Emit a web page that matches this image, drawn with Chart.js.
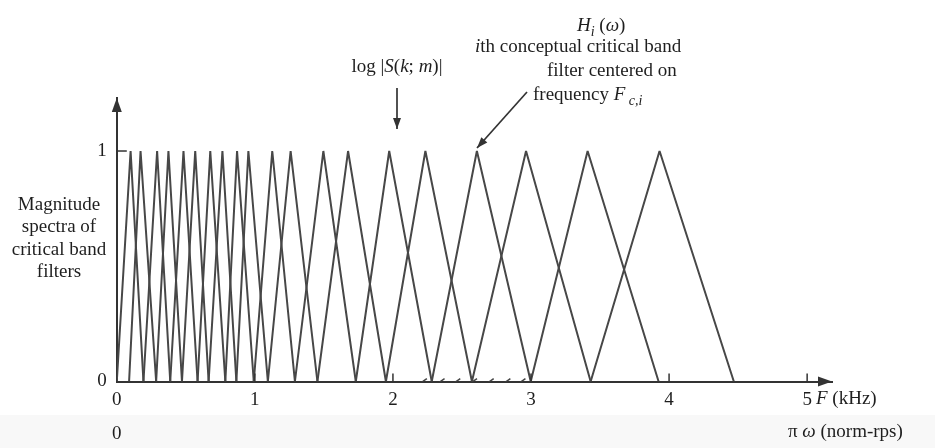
<!DOCTYPE html>
<html>
<head>
<meta charset="utf-8">
<script src="https://cdn.jsdelivr.net/npm/chart.js@4.4.1/dist/chart.umd.min.js"></script>
<style>
  html, body { margin: 0; padding: 0; background: #fff; }
  #wrap { width: 935px; height: 448px; position: relative; }
</style>
</head>
<body>
<div id="wrap"><canvas id="bands"></canvas></div>
<script>
// filter edges (kHz); filter i runs from feet[i] to feet[i + 2]
const feet = [0.0, 0.089, 0.193, 0.285, 0.387, 0.472, 0.585, 0.665, 0.786, 0.866, 0.992,
  1.094, 1.29, 1.453, 1.731, 1.949, 2.281, 2.572, 2.998, 3.432, 3.924, 4.469];
// centre frequencies Fc,i (kHz), where each filter reaches 1
const peaks = [0.1, 0.172, 0.292, 0.374, 0.483, 0.568, 0.677, 0.765, 0.871, 0.953,
  1.126, 1.259, 1.496, 1.675, 1.973, 2.235, 2.608, 2.964, 3.41, 3.931];
// spectrum sample marks along the frequency axis (kHz)
const samples = [2.216, 2.344, 2.458, 2.579, 2.7, 2.821, 2.93];
const xTicks = [0, 1, 2, 3, 4, 5];
const xTicksNorm = ['0', '', '', '', '', ''];
const yTicks = [0, 1];

const serif = "'Liberation Serif', 'DejaVu Serif', serif";
const ink = '#1e1e1e';
const lineColor = '#474747';

function font(size, italic) {
  return (italic ? 'italic ' : '') + size + 'px ' + serif;
}

// draw a line of mixed upright / italic / subscript pieces
function drawRuns(ctx, parts, x, y, align) {
  let total = 0;
  parts.forEach((p) => {
    ctx.font = font(p.sub ? 14 : 19, p.it);
    total += ctx.measureText(p.t).width;
  });
  let cx = align === 'center' ? x - total / 2 : x;
  parts.forEach((p) => {
    ctx.font = font(p.sub ? 14 : 19, p.it);
    ctx.fillText(p.t, cx, y + (p.sub ? 6 : 0));
    cx += ctx.measureText(p.t).width;
  });
}

function arrowHead(ctx, x1, y1, x2, y2, len, half) {
  const a = Math.atan2(y2 - y1, x2 - x1);
  ctx.beginPath();
  ctx.moveTo(x2, y2);
  ctx.lineTo(x2 - len * Math.cos(a) + half * Math.sin(a), y2 - len * Math.sin(a) - half * Math.cos(a));
  ctx.lineTo(x2 - len * Math.cos(a) - half * Math.sin(a), y2 - len * Math.sin(a) + half * Math.cos(a));
  ctx.closePath();
  ctx.fill();
}

function arrow(ctx, x1, y1, x2, y2) {
  ctx.beginPath();
  ctx.moveTo(x1, y1);
  ctx.lineTo(x2, y2);
  ctx.stroke();
  arrowHead(ctx, x1, y1, x2, y2, 11, 4);
}

const backdrop = {
  id: 'backdrop',
  beforeDraw(chart) {
    const { ctx, width, height } = chart;
    ctx.save();
    ctx.fillStyle = '#ffffff';
    ctx.fillRect(0, 0, width, height);
    ctx.fillStyle = '#f8f8f8';
    ctx.fillRect(0, 415, width, height - 415);
    ctx.restore();
  },
};

const annotations = {
  id: 'annotations',
  afterDraw(chart) {
    const { ctx, chartArea: { left, right, top, bottom } } = chart;
    const x = chart.scales.x;
    const y = chart.scales.y;
    ctx.save();
    ctx.strokeStyle = '#333';
    ctx.fillStyle = '#333';
    ctx.lineWidth = 1.5;

    // inward tick marks
    xTicks.slice(1).forEach((v) => {
      const px = x.getPixelForValue(v);
      ctx.beginPath();
      ctx.moveTo(px, bottom);
      ctx.lineTo(px, bottom - 8);
      ctx.stroke();
    });
    ctx.beginPath();
    ctx.moveTo(left, y.getPixelForValue(1));
    ctx.lineTo(left + 10, y.getPixelForValue(1));
    ctx.stroke();

    // axis arrow heads
    arrowHead(ctx, left, bottom, left, top, 14, 5);
    arrowHead(ctx, left, bottom, right, bottom, 14, 5);

    // pointer arrows
    ctx.lineWidth = 1.7;
    arrow(ctx, 397, 88, 397, 129);
    arrow(ctx, 527, 92, 477, 148);

    ctx.fillStyle = ink;
    ctx.textBaseline = 'middle';
    ctx.textAlign = 'left';

    drawRuns(ctx, [
      { t: 'log |' }, { t: 'S', it: true }, { t: '(' }, { t: 'k', it: true },
      { t: '; ' }, { t: 'm', it: true }, { t: ')|' },
    ], 397, 67, 'center');

    drawRuns(ctx, [
      { t: 'H', it: true }, { t: 'i', it: true, sub: true }, { t: ' (' },
      { t: 'ω', it: true }, { t: ')' },
    ], 577, 26);
    drawRuns(ctx, [{ t: 'i', it: true }, { t: 'th conceptual critical band' }], 475, 47);
    drawRuns(ctx, [{ t: 'filter centered on' }], 547, 71);
    drawRuns(ctx, [
      { t: 'frequency ' }, { t: 'F', it: true }, { t: ' c,i', it: true, sub: true },
    ], 533, 95);

    ['Magnitude', 'spectra of', 'critical band', 'filters'].forEach((s, i) => {
      drawRuns(ctx, [{ t: s }], 59, 205 + i * 22.5, 'center');
    });

    drawRuns(ctx, [{ t: 'F', it: true }, { t: ' (kHz)' }], 816, 399);
    drawRuns(ctx, [{ t: 'π ' }, { t: 'ω', it: true }, { t: ' (norm-rps)' }], 788, 432);
    ctx.restore();
  },
};

const datasets = peaks.map((p, i) => ({
  data: [
    { x: feet[i], y: 0 },
    { x: p, y: 1 },
    { x: feet[i + 2], y: 0 },
  ],
  borderColor: lineColor,
  borderWidth: 2,
  borderJoinStyle: 'bevel',
  pointRadius: 0,
  tension: 0,
}));

datasets.push({
  data: samples.map((s) => ({ x: s, y: 0 })),
  showLine: false,
  pointStyle: 'line',
  rotation: -35,
  pointRadius: 5,
  borderColor: '#444',
  borderWidth: 1.5,
});

const config = {
  type: 'line',
  data: { datasets },
  options: {
    responsive: true,
    maintainAspectRatio: false,
    animation: false,
    layout: {
      padding: { left: 0, top: 98, right: 103, bottom: 0 },
    },
    plugins: {
      legend: { display: false },
      tooltip: { enabled: false },
      title: { display: false },
    },
    scales: {
      x: {
        type: 'linear',
        min: 0,
        max: 5.18,
        grid: { display: false, drawTicks: false },
        border: { display: true, color: '#333', width: 2 },
        afterBuildTicks: (scale) => {
          scale.ticks = xTicks.map((v) => ({ value: v }));
        },
        afterFit: (scale) => {
          scale.height = 66.5;
        },
        ticks: {
          autoSkip: false,
          maxRotation: 0,
          padding: 1,
          color: ink,
          font: { family: serif, size: 19, lineHeight: 1.8 },
          callback: function (value) {
            const i = xTicks.indexOf(value);
            return xTicksNorm[i] ? [String(value), xTicksNorm[i]] : String(value);
          },
        },
      },
      y: {
        min: 0,
        max: 1.23,
        grid: { display: false, drawTicks: false },
        border: { display: true, color: '#333', width: 2 },
        afterBuildTicks: (scale) => {
          scale.ticks = yTicks.map((v) => ({ value: v }));
        },
        afterFit: (scale) => {
          scale.width = 116.8;
        },
        ticks: {
          padding: 10,
          color: ink,
          font: { family: serif, size: 19 },
        },
      },
    },
  },
  plugins: [backdrop, annotations],
};

new Chart(document.getElementById('bands').getContext('2d'), config);
</script>
</body>
</html>
